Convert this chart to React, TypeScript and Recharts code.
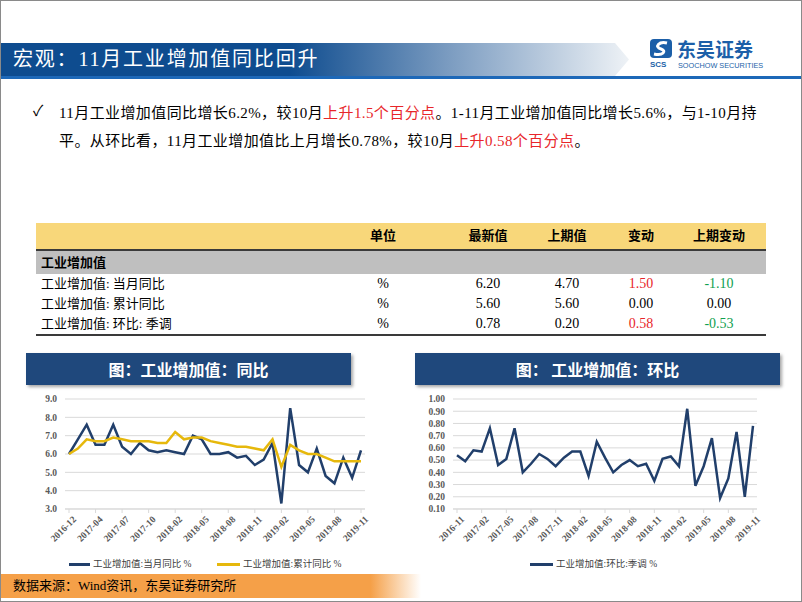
import React from 'react'
import { LineChart, Line, XAxis, YAxis, CartesianGrid } from 'recharts'

// 当月同比 / 累计同比 (no Jan in 2017, 2018)
const yoyMonths = [
  '2016-12', '2017-02', '2017-03', '2017-04', '2017-05', '2017-06', '2017-07', '2017-08', '2017-09',
  '2017-10', '2017-11', '2017-12', '2018-02', '2018-03', '2018-04', '2018-05', '2018-06', '2018-07',
  '2018-08', '2018-09', '2018-10', '2018-11', '2018-12', '2019-01', '2019-02', '2019-03', '2019-04',
  '2019-05', '2019-06', '2019-07', '2019-08', '2019-09', '2019-10', '2019-11',
]
const yoyMonthly = [
  6.0, 6.8, 7.6, 6.5, 6.5, 7.6, 6.4, 6.0, 6.6, 6.2, 6.1, 6.2, 6.1, 6.0, 7.0, 6.8, 6.0,
  6.0, 6.1, 5.8, 5.9, 5.4, 5.7, 6.6, 3.3, 8.5, 5.4, 5.0, 6.3, 4.8, 4.4, 5.8, 4.7, 6.2,
]
const yoyCumulative = [
  6.0, 6.3, 6.8, 6.7, 6.7, 6.9, 6.8, 6.7, 6.7, 6.7, 6.6, 6.6, 7.2, 6.8, 6.9, 6.9, 6.7,
  6.6, 6.5, 6.4, 6.4, 6.3, 6.2, 6.8, 5.3, 6.5, 6.2, 6.0, 6.0, 5.8, 5.6, 5.6, 5.6, 5.6,
]
const yoyTicks = [3, 4, 5, 6, 7, 8, 9]

// 环比:季调
const momMonths = [
  '2016-11', '2016-12', '2017-01', '2017-02', '2017-03', '2017-04', '2017-05', '2017-06', '2017-07',
  '2017-08', '2017-09', '2017-10', '2017-11', '2017-12', '2018-01', '2018-02', '2018-03', '2018-04',
  '2018-05', '2018-06', '2018-07', '2018-08', '2018-09', '2018-10', '2018-11', '2018-12', '2019-01',
  '2019-02', '2019-03', '2019-04', '2019-05', '2019-06', '2019-07', '2019-08', '2019-09', '2019-10',
  '2019-11',
]
const momSA = [
  0.54, 0.49, 0.58, 0.57, 0.76, 0.46, 0.51, 0.76, 0.40, 0.47, 0.55, 0.51, 0.45, 0.52, 0.57,
  0.57, 0.37, 0.65, 0.52, 0.40, 0.46, 0.50, 0.45, 0.47, 0.33, 0.51, 0.53, 0.45, 0.92, 0.29,
  0.45, 0.68, 0.19, 0.35, 0.73, 0.20, 0.78,
]
const momTicks = [0.1, 0.2, 0.3, 0.4, 0.5, 0.6, 0.7, 0.8, 0.9, 1.0]

// 表格
const tableHead = ['单位', '最新值', '上期值', '变动', '上期变动']
const rowNames = ['工业增加值: 当月同比', '工业增加值: 累计同比', '工业增加值: 环比: 季调']
const rowUnit = ['%', '%', '%']
const rowLatest = ['6.20', '5.60', '0.78']
const rowPrev = ['4.70', '5.60', '0.20']
const rowChange = ['1.50', '0.00', '0.58']
const rowPrevChange = ['-1.10', '0.00', '-0.53']

const yoyData = yoyMonths.map((m, i) => ({ m, a: yoyMonthly[i], b: yoyCumulative[i] }))
const momData = momMonths.map((m, i) => ({ m, v: momSA[i] }))

const NAVY = '#213F6B'
const GOLD = '#E6B80C'
const SERIF = '"Liberation Serif", "Noto Sans CJK SC", serif'
const CJK = '"Liberation Serif", "Noto Sans CJK SC", sans-serif'

const AngleTick = (props: any) => {
  const { x, y, payload } = props
  return (
    <g transform={`translate(${x},${y})`}>
      <text
        x={0}
        y={0}
        dx={2}
        dy={9}
        textAnchor="end"
        transform="rotate(-45)"
        fontSize={9.5}
        fontWeight="bold"
        fill="#595959"
        fontFamily={SERIF}
      >
        {payload.value}
      </text>
    </g>
  )
}

const valColor = (s: string) => {
  const n = parseFloat(s)
  if (n > 0) return '#E8262A'
  if (n < 0) return '#10A050'
  return '#000'
}

const colX = [382, 487, 566, 640, 718]

export default function App() {
  return (
    <div
      style={{
        position: 'fixed',
        left: 0,
        top: 0,
        width: 800,
        height: 600,
        border: '1px solid #8a8a8a',
        background: '#fff',
        overflow: 'hidden',
        fontFamily: CJK,
        color: '#000',
      }}
    >
      {/* header */}
      <div
        style={{
          position: 'absolute',
          left: 0,
          top: 42,
          width: 628,
          height: 33,
          background: 'linear-gradient(to right, #0E4C8F 0%, #0E4C8F 46%, #7E9EC2 72%, #EEF2F6 100%)',
          clipPath: 'polygon(0 0, 614px 0, 628px 50%, 614px 100%, 0 100%)',
        }}
      />
      <div
        style={{
          position: 'absolute',
          left: 12,
          top: 43,
          height: 30,
          lineHeight: '30px',
          fontSize: 20,
          color: '#fff',
          letterSpacing: 1.8,
        }}
      >
        宏观：11月工业增加值同比回升
      </div>
      <div style={{ position: 'absolute', left: 0, top: 75, width: 800, height: 3, background: '#1D68B8' }} />

      {/* logo */}
      <svg style={{ position: 'absolute', left: 648, top: 32 }} width={140} height={40}>
        <rect x={1} y={6} width={22} height={19} rx={4} fill="#1C5FA8" />
        <path d="M18 10 C10 8, 5 14, 12 16 C18 18, 14 23, 5 21" stroke="#fff" strokeWidth={3} fill="none" />
        <text x={1} y={34} fontSize={8} fontWeight="bold" fill="#1C5FA8" fontFamily="Liberation Sans">SCS</text>
        <text x={28} y={24} fontSize={19} fontWeight="bold" fill="#1C5FA8" fontFamily="Noto Sans CJK SC">东吴证券</text>
        <text x={29} y={35} fontSize={7.3} fill="#1C5FA8" fontFamily="Liberation Sans">SOOCHOW SECURITIES</text>
      </svg>

      {/* bullet text */}
      <div style={{ position: 'absolute', left: 32, top: 98, fontSize: 15, lineHeight: '24px' }}>✓</div>
      <div
        style={{
          position: 'absolute',
          left: 58,
          top: 98,
          fontSize: 15,
          lineHeight: '28px',
          letterSpacing: 0.4,
          whiteSpace: 'nowrap',
        }}
      >
        <div>
          11月工业增加值同比增长6.2%，较10月<span style={{ color: '#E8262A' }}>上升1.5个百分点</span>。1-11月工业增加值同比增长5.6%，与1-10月持
        </div>
        <div>
          平。从环比看，11月工业增加值比上月增长0.78%，较10月<span style={{ color: '#E8262A' }}>上升0.58个百分点</span>。
        </div>
      </div>

      {/* table */}
      <div style={{ position: 'absolute', left: 35, top: 222, width: 730, height: 26, background: '#F8D77A' }} />
      <div style={{ position: 'absolute', left: 35, top: 248, width: 730, height: 2, background: '#3a3a3a' }} />
      <div style={{ position: 'absolute', left: 35, top: 250, width: 730, height: 23, background: '#BFBFBF' }} />
      <div style={{ position: 'absolute', left: 35, top: 333, width: 730, height: 2, background: '#3a3a3a' }} />
      {tableHead.map((h, i) => (
        <div
          key={h}
          style={{
            position: 'absolute',
            left: colX[i] - 50,
            width: 100,
            top: 224,
            textAlign: 'center',
            fontSize: 13,
            fontWeight: 'bold',
            lineHeight: '22px',
          }}
        >
          {h}
        </div>
      ))}
      <div style={{ position: 'absolute', left: 40, top: 251, fontSize: 13, fontWeight: 'bold', lineHeight: '22px' }}>
        工业增加值
      </div>
      {rowNames.map((name, r) => {
        const top = 273 + r * 20
        const cells = [rowUnit[r], rowLatest[r], rowPrev[r], rowChange[r], rowPrevChange[r]]
        return (
          <React.Fragment key={name}>
            <div style={{ position: 'absolute', left: 40, top, fontSize: 13, lineHeight: '20px' }}>{name}</div>
            {cells.map((c, i) => (
              <div
                key={i}
                style={{
                  position: 'absolute',
                  left: colX[i] - 50,
                  width: 100,
                  top,
                  textAlign: 'center',
                  fontSize: 14,
                  lineHeight: '20px',
                  fontFamily: SERIF,
                  color: i >= 3 ? valColor(c) : '#000',
                }}
              >
                {c}
              </div>
            ))}
          </React.Fragment>
        )
      })}

      {/* chart title boxes */}
      <div
        style={{
          position: 'absolute',
          left: 25,
          top: 352,
          width: 325,
          height: 32,
          background: '#1F487C',
          boxShadow: '2px 2px 3px rgba(0,0,0,0.35)',
          color: '#fff',
          fontSize: 16,
          fontWeight: 'bold',
          textAlign: 'center',
          lineHeight: '32px',
          fontFamily: '"Noto Sans CJK SC", sans-serif',
        }}
      >
        图：工业增加值：同比
      </div>
      <div
        style={{
          position: 'absolute',
          left: 414,
          top: 352,
          width: 365,
          height: 32,
          background: '#1F487C',
          boxShadow: '2px 2px 3px rgba(0,0,0,0.35)',
          color: '#fff',
          fontSize: 16,
          fontWeight: 'bold',
          textAlign: 'center',
          lineHeight: '32px',
          fontFamily: '"Noto Sans CJK SC", sans-serif',
        }}
      >
        图： 工业增加值：环比
      </div>

      {/* left chart */}
      <div style={{ position: 'absolute', left: 0, top: 390 }}>
        <LineChart width={370} height={170} data={yoyData} margin={{ top: 8, right: 6, bottom: 0, left: 0 }}>
          <CartesianGrid vertical={false} stroke="#D9D9D9" />
          <XAxis
            dataKey="m"
            interval={2}
            height={52}
            padding={{ left: 4, right: 4 }}
            stroke="#D9D9D9"
            tickSize={4}
            tick={<AngleTick />}
          />
          <YAxis
            domain={[3, 9]}
            ticks={yoyTicks}
            interval={0}
            width={64}
            axisLine={false}
            tickLine={false}
            tickFormatter={(v: number) => v.toFixed(1)}
            tick={{ fontSize: 9.5, fontWeight: 'bold', fill: '#595959', fontFamily: SERIF }}
          />
          <Line dataKey="a" stroke={NAVY} strokeWidth={2.5} dot={false} isAnimationActive={false} />
          <Line dataKey="b" stroke={GOLD} strokeWidth={2.5} dot={false} isAnimationActive={false} />
        </LineChart>
      </div>
      <div style={{ position: 'absolute', left: 68, top: 562, width: 21, height: 3, background: NAVY }} />
      <div style={{ position: 'absolute', left: 92, top: 556, fontSize: 9.5, lineHeight: '14px', color: '#404040' }}>
        工业增加值:当月同比 %
      </div>
      <div style={{ position: 'absolute', left: 216, top: 562, width: 23, height: 3, background: GOLD }} />
      <div style={{ position: 'absolute', left: 242, top: 556, fontSize: 9.5, lineHeight: '14px', color: '#404040' }}>
        工业增加值:累计同比 %
      </div>

      {/* right chart */}
      <div style={{ position: 'absolute', left: 390, top: 390 }}>
        <LineChart width={372} height={170} data={momData} margin={{ top: 8, right: 6, bottom: 0, left: 0 }}>
          <CartesianGrid vertical={false} stroke="#D9D9D9" />
          <XAxis
            dataKey="m"
            interval={2}
            height={52}
            padding={{ left: 4, right: 4 }}
            stroke="#D9D9D9"
            tickSize={4}
            tick={<AngleTick />}
          />
          <YAxis
            domain={[0.1, 1.0]}
            ticks={momTicks}
            interval={0}
            width={62}
            axisLine={false}
            tickLine={false}
            tickFormatter={(v: number) => v.toFixed(2)}
            tick={{ fontSize: 9.5, fontWeight: 'bold', fill: '#595959', fontFamily: SERIF }}
          />
          <Line dataKey="v" stroke={NAVY} strokeWidth={2.5} dot={false} isAnimationActive={false} />
        </LineChart>
      </div>
      <div style={{ position: 'absolute', left: 529, top: 562, width: 23, height: 3, background: NAVY }} />
      <div style={{ position: 'absolute', left: 555, top: 556, fontSize: 9.5, lineHeight: '14px', color: '#404040' }}>
        工业增加值:环比:季调 %
      </div>

      {/* source */}
      <div
        style={{
          position: 'absolute',
          left: 0,
          top: 573,
          width: 420,
          height: 24,
          background: 'linear-gradient(to right, #F5A048 0%, #F5A048 88%, rgba(245,160,72,0) 100%)',
        }}
      />
      <div style={{ position: 'absolute', left: 12, top: 573, fontSize: 13, lineHeight: '24px' }}>
        数据来源：Wind资讯，东吴证券研究所
      </div>
    </div>
  )
}
